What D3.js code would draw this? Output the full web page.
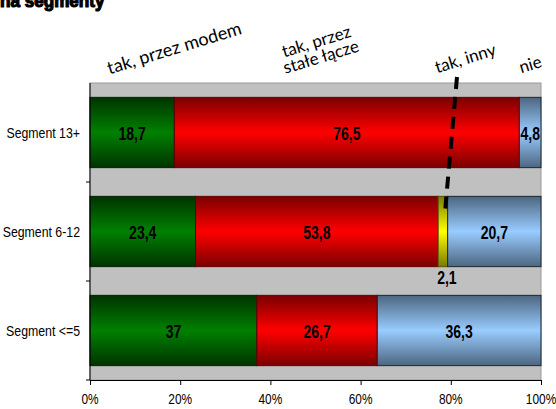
<!DOCTYPE html>
<html>
<head>
<meta charset="utf-8">
<script src="https://cdn.jsdelivr.net/npm/d3@7"></script>
<style>
  body { margin: 0; background: #fff; }
  svg { display: block; }
</style>
</head>
<body>
<div id="chart"></div>
<script>
const categories = ['Segment 13+', 'Segment 6-12', 'Segment <=5'];
const seriesNames = ['tak, przez modem', 'tak, przez stałe łącze', 'tak, inny', 'nie'];
const modem  = [18.7, 23.4, 37];
const stale  = [76.5, 53.8, 26.7];
const inny   = [0, 2.1, 0];
const nie    = [4.8, 20.7, 36.3];
const xTicks = [0, 20, 40, 60, 80, 100];

const colors = [
  { mid: '#008000', edge: '#003300', stroke: '#002200' },
  { mid: '#ff0000', edge: '#7a0000', stroke: '#600000' },
  { mid: '#ffff00', edge: '#7a7a00', stroke: '#555500' },
  { mid: '#99ccff', edge: '#4d6680', stroke: '#1a2633' }
];

const W = 556, H = 409;
const margin = { top: 83, right: 15, bottom: 29, left: 90 };
const width = W - margin.left - margin.right;
const height = H - margin.top - margin.bottom;
const narrow = 'Liberation Sans, Arial, sans-serif';

const svg = d3.select('#chart').append('svg')
  .attr('width', W).attr('height', H);

const defs = svg.append('defs');
colors.forEach((c, i) => {
  const grad = defs.append('linearGradient')
    .attr('id', 'g' + i)
    .attr('x1', 0).attr('y1', 0).attr('x2', 0).attr('y2', 1);
  grad.append('stop').attr('offset', '0%').attr('stop-color', c.edge);
  grad.append('stop').attr('offset', '50%').attr('stop-color', c.mid);
  grad.append('stop').attr('offset', '100%').attr('stop-color', c.edge);
});

// narrow text helper: horizontally squeezed Liberation Sans
function narrowText(sel, px, py, txt, opts) {
  return sel.append('text')
    .attr('transform', `translate(${px},${py}) scale(${opts.squeeze || 0.8},1)`)
    .attr('text-anchor', opts.anchor || 'middle')
    .attr('font-family', narrow)
    .attr('font-weight', opts.weight || 'normal')
    .attr('font-size', opts.size)
    .attr('fill', '#000')
    .text(txt);
}

// title (cut off at top)
svg.append('text')
  .attr('transform', 'translate(0,7) scale(0.95,1)')
  .attr('font-family', 'Liberation Sans, Arial, sans-serif')
  .attr('font-weight', 900)
  .attr('font-size', 18)
  .attr('fill', '#000')
  .attr('stroke', '#000')
  .attr('stroke-width', 1.2)
  .text('na segmenty');

const g = svg.append('g')
  .attr('transform', `translate(${margin.left},${margin.top})`);

const x = d3.scaleLinear().domain([0, 100]).range([0, width]);
const y = d3.scaleBand().domain(categories).range([0, height]).paddingInner(0.29).paddingOuter(0.145);

// plot background
g.append('rect')
  .attr('x', 0).attr('y', 0)
  .attr('width', width).attr('height', height)
  .attr('fill', '#c0c0c0')
  .attr('stroke', '#9a9a9a')
  .attr('stroke-width', 1);

const rows = categories.map((c, i) => [modem[i], stale[i], inny[i], nie[i]]);

rows.forEach((vals, ri) => {
  let acc = 0;
  const by = y(categories[ri]);
  vals.forEach((v, si) => {
    if (v > 0) {
      g.append('rect')
        .attr('x', x(acc))
        .attr('y', by)
        .attr('width', x(acc + v) - x(acc))
        .attr('height', y.bandwidth())
        .attr('fill', `url(#g${si})`)
        .attr('stroke', colors[si].stroke)
        .attr('stroke-width', 1);
      const small = v < 3;
      const cx = x(acc + v / 2);
      narrowText(g,
        small ? cx + 4 : cx,
        small ? by + y.bandwidth() + 17 : by + y.bandwidth() / 2 + 7,
        String(v).replace('.', ','),
        { size: 18, weight: 'bold', squeeze: 0.78 });
    }
    acc += v;
  });
});

// left axis
g.append('line')
  .attr('x1', 0).attr('x2', 0).attr('y1', 0).attr('y2', height)
  .attr('stroke', '#000');
const edges = d3.range(categories.length + 1).map(i => i * height / categories.length);
g.selectAll('.ytick').data(edges.slice(1)).join('line')
  .attr('x1', -4).attr('x2', 0)
  .attr('y1', d => d).attr('y2', d => d)
  .attr('stroke', '#000');
categories.forEach(c => {
  narrowText(g, -10, y(c) + y.bandwidth() / 2 + 5, c, { size: 14, anchor: 'end', squeeze: 0.88 });
});

// bottom axis
const xAxis = g.append('g')
  .attr('transform', `translate(0,${height})`)
  .call(d3.axisBottom(x).tickValues(xTicks).tickSize(5).tickFormat(''));
xAxis.select('.domain').attr('stroke', '#000');
xTicks.forEach(t => {
  narrowText(g, x(t), height + 24, t + '%', { size: 14.5, squeeze: 0.82 });
});

// series labels (rotated)
const labelFont = 'Lato, Noto Sans, sans-serif';
function rotLabel(lines, cx, cy, angle, size) {
  const t = svg.append('text')
    .attr('transform', `translate(${cx},${cy}) rotate(${angle})`)
    .attr('text-anchor', 'middle')
    .attr('font-family', labelFont)
    .attr('font-size', size)
    .attr('fill', '#000');
  lines.forEach((l, i) => {
    t.append('tspan').attr('x', 0).attr('dy', i === 0 ? 0 : size * 0.95).text(l);
  });
}
rotLabel(['tak, przez modem'], 176, 54, -17, 18);
rotLabel(['tak, przez', 'stałe łącze'], 318, 47, -17, 17);
rotLabel(['tak, inny'], 467, 64, -17, 17);
rotLabel(['nie'], 532, 70, -17, 17);

// dashed pointer line for "tak, inny"
svg.append('line')
  .attr('x1', 457).attr('y1', 77)
  .attr('x2', x(23.4 + 53.8 + 2.1 / 2) + margin.left + 2).attr('y2', 213)
  .attr('stroke', '#000')
  .attr('stroke-width', 4)
  .attr('stroke-dasharray', '12,8');
</script>
</body>
</html>
